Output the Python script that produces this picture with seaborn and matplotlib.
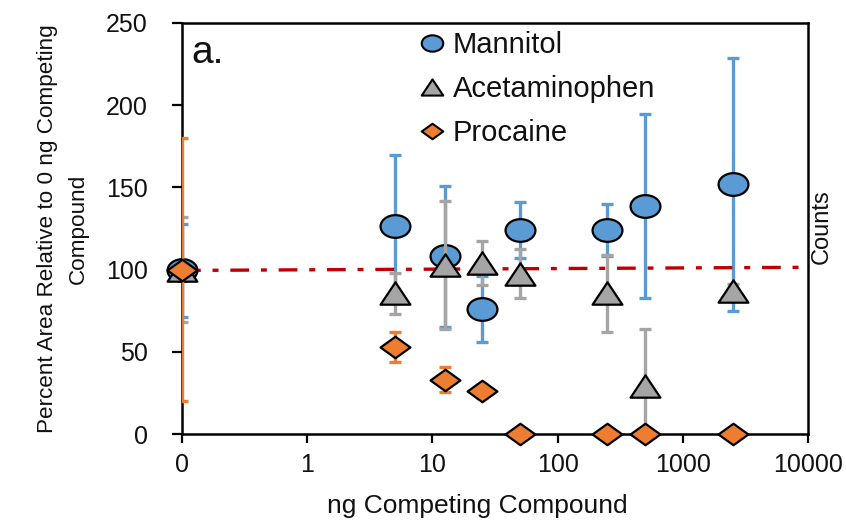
import numpy as np
import matplotlib
matplotlib.use("Agg")
import matplotlib.pyplot as plt
from matplotlib.path import Path
from matplotlib.lines import Line2D
from matplotlib.transforms import Affine2D
import seaborn as sns

# ---- data -------------------------------------------------------------
conc_ng = [0, 5, 12.5, 25, 50, 250, 500, 2500]
tick_values = [0, 1, 10, 100, 1000, 10000]
tick_labels = ["0", "1", "10", "100", "1000", "10000"]

mannitol_mean = [99.5, 126.5, 108, 76, 124, 124, 138.5, 152]
mannitol_err = [28.5, 43, 43, 20, 17, 16, 56, 77]

acetaminophen_mean = [100, 85.5, 103, 104, 97.5, 85.5, 29, 87]
acetaminophen_err = [32, 12.5, 39, 13.5, 15, 23.5, 35, 4]

procaine_mean = [100, 53, 33, 26, 0, 0, 0, 0]
procaine_err = [80, 9, 7.5, 4, 0, 0, 0, 0]

ref_x = [0, 10000]
ref_y = [99.5, 101.4]

# zero amount is placed one decade below 1 on the log axis
ZERO_POS = 0.1


def to_axis(vals):
    return [ZERO_POS if v == 0 else v for v in vals]


# ---- marker shapes (slightly flattened) --------------------------------
def ellipse_marker(ratio):
    circ = Path.unit_circle()
    return circ.transformed(Affine2D().scale(0.5, 0.5 * ratio))


def triangle_marker(ratio):
    h = 0.5 * ratio
    return Path([(-0.5, -h), (0.5, -h), (0.0, h), (-0.5, -h)],
                [Path.MOVETO, Path.LINETO, Path.LINETO, Path.CLOSEPOLY])


def diamond_marker(ratio):
    h = 0.5 * ratio
    return Path([(0.0, -h), (0.5, 0.0), (0.0, h), (-0.5, 0.0), (0.0, -h)],
                [Path.MOVETO, Path.LINETO, Path.LINETO, Path.LINETO, Path.CLOSEPOLY])


BLUE = "#5B9BD5"
GRAY = "#A5A5A5"
ORANGE = "#ED7D31"
RED = "#C00000"
TEXT = "#111111"

series = [
    ("Mannitol", mannitol_mean, mannitol_err, BLUE, ellipse_marker(0.76)),
    ("Acetaminophen", acetaminophen_mean, acetaminophen_err, GRAY, triangle_marker(0.75)),
    ("Procaine", procaine_mean, procaine_err, ORANGE, diamond_marker(0.72)),
]

# ---- style ------------------------------------------------------------
sns.set_theme(style="ticks")
plt.rcParams["font.family"] = ["Liberation Sans", "DejaVu Sans"]
plt.rcParams["lines.scale_dashes"] = False

W, H = 846, 520
fig = plt.figure(figsize=(W / 100, H / 100), dpi=100)
ax = fig.add_axes([182 / W, 1 - 434 / H, (808 - 182) / W, (434 - 23) / H])

ax.set_xscale("log")
ax.set_xlim(ZERO_POS, 10000)
ax.set_ylim(0, 250)

xs = to_axis(conc_ng)

z = 2
for name, mean, err, color, marker in series:
    ax.errorbar(xs, mean, yerr=err, fmt="none", ecolor=color,
                elinewidth=2.4, capsize=4.6, capthick=2.4, zorder=z)
    sns.scatterplot(x=xs, y=mean, marker=marker, s=21.5 ** 2, color=color,
                    edgecolor="black", linewidth=1.6, ax=ax, zorder=z + 1,
                    clip_on=False, legend=False)
    if name == "Mannitol":
        ref, = ax.plot(to_axis(ref_x), ref_y, color=RED, lw=2.4,
                       zorder=z + 1.5, solid_capstyle="butt")
        ref.set_dashes((13.5, 8.5, 4.3, 8.5))
    z += 2

# ---- axes decoration --------------------------------------------------
ax.set_xticks(to_axis(tick_values))
ax.set_xticklabels(tick_labels)
ax.xaxis.set_minor_locator(matplotlib.ticker.NullLocator())
ax.set_yticks([0, 50, 100, 150, 200, 250])

for side in ["left", "right", "top", "bottom"]:
    ax.spines[side].set_visible(True)
    ax.spines[side].set_color("black")
    ax.spines[side].set_linewidth(1.8)

ax.tick_params(axis="y", which="major", direction="out", length=7.5, width=1.6,
               color="black", labelsize=18, pad=17, labelcolor=TEXT)
ax.tick_params(axis="x", which="major", direction="out", length=6.5, width=1.6,
               color="black", labelsize=18, pad=7, labelcolor=TEXT)
ax.tick_params(top=False, right=False)

ax.set_xlabel("ng Competing Compound", fontsize=19, color=TEXT)
ax.xaxis.set_label_coords((477 - 182) / 626, -0.145)
ax.xaxis.label.set_verticalalignment("top")

ax.set_ylabel("Percent Area Relative to 0 ng Competing\nCompound",
              fontsize=16.2, color=TEXT, linespacing=1.6)
ax.yaxis.set_label_coords((89 - 182) / 626, 0.5)

ax2 = ax.twinx()
ax2.set_yticks([])
ax2.set_ylabel("Counts", fontsize=17, color=TEXT)
ax2.yaxis.set_label_coords((811 - 182) / 626, 0.505)
for side in ["left", "right", "top", "bottom"]:
    ax2.spines[side].set_visible(False)

ax.text((191 - 182) / 626, (434 - 63) / 411, "a.", transform=ax.transAxes,
        fontsize=28, ha="left", va="baseline", color=TEXT)

# ---- legend -----------------------------------------------------------
handles = [
    Line2D([], [], linestyle="none", marker=marker, markersize=15.5,
           markerfacecolor=color, markeredgecolor="black", markeredgewidth=1.5)
    for name, mean, err, color, marker in series
]
labels = [s[0] for s in series]
leg = ax.legend(handles, labels, loc="upper left",
                bbox_to_anchor=(416 / W, 1 - 31 / H),
                bbox_transform=fig.transFigure, frameon=False,
                fontsize=21, handlelength=1.1, handletextpad=0.15,
                labelspacing=0.55, borderpad=0, borderaxespad=0)
for t in leg.get_texts():
    t.set_color(TEXT)

fig.savefig("out.png", dpi=100, facecolor="white")
